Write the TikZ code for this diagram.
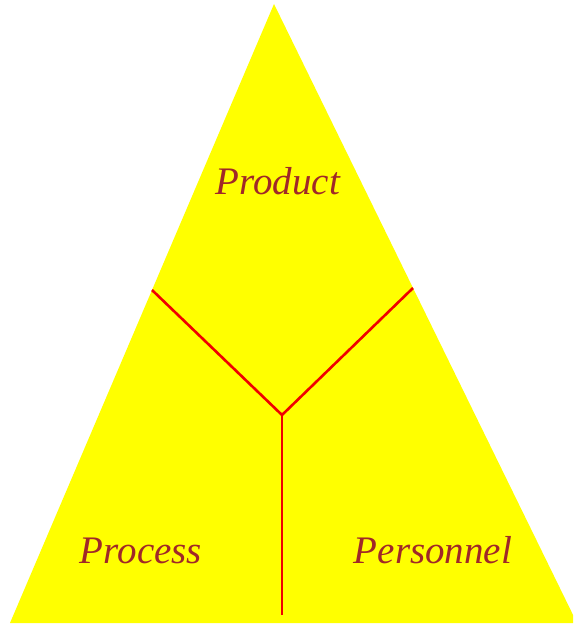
\documentclass[tikz,border=0pt]{standalone}
\usepackage{fontspec}
\setmainfont{Liberation Serif}
\definecolor{labelred}{RGB}{160,40,40}
\definecolor{splitred}{RGB}{240,0,0}
\definecolor{fieldyellow}{RGB}{255,255,0}
\begin{document}
\begin{tikzpicture}[x=1pt, y=-1pt,
    area/.style={text=labelred, font=\itshape\fontsize{39}{41}\selectfont, anchor=base},
    split/.style={splitred, line width=2.6pt}]
    \useasboundingbox (0,0) rectangle (573,631);
    \clip (0,0) rectangle (573,631);

    \fill[fieldyellow] (274,4) -- (577,623) -- (10,623) -- cycle;

    \coordinate (hub) at (282,415);
    \coordinate (lft) at (152,290);
    \coordinate (rgt) at (413,288);
    \coordinate (bot) at (282,615);
    \draw[split] (lft) -- (hub) -- (rgt);
    \draw[split] (hub) -- (bot);

    \node[area] (product) at (278,194) {Product};
    \node[area] (process) at (141,563) {Process};
    \node[area] (personnel) at (433,563) {Personnel};
\end{tikzpicture}
\end{document}
